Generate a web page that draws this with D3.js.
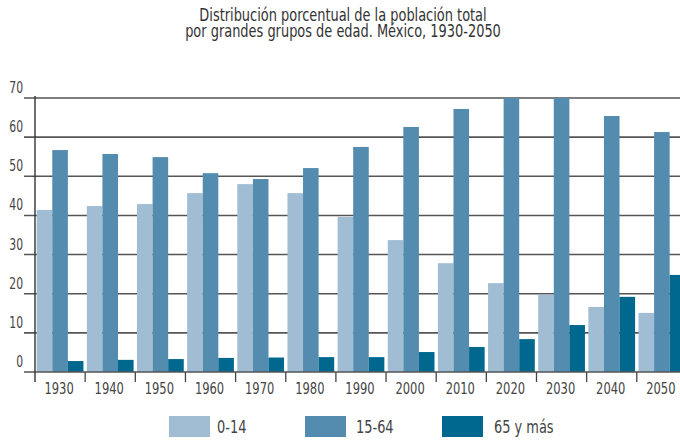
<!DOCTYPE html>
<html>
<head>
<meta charset="utf-8">
<script src="https://cdn.jsdelivr.net/npm/d3@7"></script>
<style>
  html, body { margin: 0; padding: 0; background: #fff; }
  svg { display: block; }
  text { font-family: "Liberation Sans Narrow", "Arial Narrow", "DejaVu Sans Condensed", sans-serif; fill: #444; }
</style>
</head>
<body>
<svg id="chart" width="680" height="440"></svg>
<script>
const titleLines = ["Distribución porcentual de la población total", "por grandes grupos de edad. México, 1930-2050"];
const years = ["1930","1940","1950","1960","1970","1980","1990","2000","2010","2020","2030","2040","2050"];
const seriesNames = ["0-14", "15-64", "65 y más"];
const age0_14  = [41.4, 42.4, 42.9, 45.7, 48.0, 45.7, 39.6, 33.7, 27.8, 22.7, 19.7, 16.6, 15.1];
const age15_64 = [56.7, 55.7, 54.9, 50.8, 49.3, 52.1, 57.5, 62.6, 67.2, 70.0, 70.0, 65.4, 61.3];
const age65    = [2.8, 3.1, 3.3, 3.6, 3.7, 3.8, 3.8, 5.1, 6.4, 8.4, 12.0, 19.2, 24.8];
const yTicks = [0, 10, 20, 30, 40, 50, 60, 70];
const colors = ["#a0bdd3", "#548caf", "#00678f"];

const SX = 0.8; // horizontal condensing to mimic a condensed face
const svg = d3.select("#chart");
const allSeries = [age0_14, age15_64, age65];

const x0 = d3.scaleBand().domain(years).range([35, 35 + 50.15 * years.length]).padding(0);
const bw = x0.bandwidth();
const x1 = d3.scaleBand().domain(seriesNames).range([1.7, bw - 1.7]).padding(0);
const y = d3.scaleLinear().domain([0, 70]).range([372, 98]);

// title (single text element with two lines)
const title = svg.append("text")
  .attr("transform", `translate(343,21) scale(${SX},1)`)
  .attr("text-anchor", "middle").style("font-size", "18px").style("fill", "#333");
title.selectAll("tspan").data(titleLines).join("tspan")
  .attr("x", 0).attr("y", (d, i) => i * 15.5)
  .text(d => d);

// gridlines
svg.append("g").selectAll("line").data(yTicks.filter(t => t > 0)).join("line")
  .attr("x1", 24).attr("x2", 680)
  .attr("y1", d => y(d)).attr("y2", d => y(d))
  .attr("stroke", "#555").attr("stroke-width", 1.6);

// y labels
svg.append("g").selectAll("text").data(yTicks).join("text")
  .attr("transform", d => `translate(23,${y(d) - 5}) scale(${SX},1)`)
  .attr("text-anchor", "end").style("font-size", "15px")
  .text(d => d);

// bars
const rows = years.map((yr, i) => ({ year: yr, vals: seriesNames.map((s, j) => ({ key: s, idx: j, v: allSeries[j][i] })) }));
svg.append("g").selectAll("g").data(rows).join("g")
  .attr("transform", d => `translate(${x0(d.year)},0)`)
  .selectAll("rect").data(d => d.vals).join("rect")
  .attr("x", d => x1(d.key)).attr("width", x1.bandwidth())
  .attr("y", d => y(d.v)).attr("height", d => y(0) - y(d.v))
  .attr("fill", d => colors[d.idx]);

// x axis line
svg.append("line").attr("x1", 24).attr("x2", 680).attr("y1", y(0)).attr("y2", y(0))
  .attr("stroke", "#555").attr("stroke-width", 1.6);
// group ticks
const bounds = years.map(yr => x0(yr) + bw).slice(0, -1);
svg.append("g").selectAll("line").data(bounds).join("line")
  .attr("x1", d => d).attr("x2", d => d).attr("y1", y(0)).attr("y2", y(0) + 10)
  .attr("stroke", "#444").attr("stroke-width", 1.3);
// y axis
svg.append("line").attr("x1", 35).attr("x2", 35).attr("y1", 96).attr("y2", y(0) + 10)
  .attr("stroke", "#333").attr("stroke-width", 1.4);

// x labels
svg.append("g").selectAll("text").data(years).join("text")
  .attr("transform", d => `translate(${x0(d) + bw / 2 - 1},394) scale(${SX},1)`)
  .attr("text-anchor", "middle").style("font-size", "16px")
  .text(d => d);

// legend
const legX = [169, 305, 442];
const leg = svg.append("g").selectAll("g").data(seriesNames).join("g")
  .attr("transform", (d, i) => `translate(${legX[i]},416)`);
leg.append("rect").attr("width", 41).attr("height", 21).attr("fill", (d, i) => colors[i]);
leg.append("text")
  .attr("transform", (d, i) => `translate(${[48, 51, 52][i]},17) scale(${SX},1)`)
  .style("font-size", "18px").text(d => d);
</script>
</body>
</html>
